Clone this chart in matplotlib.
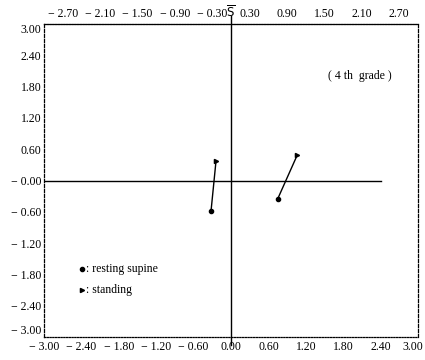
import matplotlib
matplotlib.use("Agg")
import matplotlib.pyplot as plt
import matplotlib.transforms as mtransforms
import numpy as np

# Data
supine_x = [-0.32, 0.75]
supine_y = [-0.58, -0.35]
standing_x = [-0.24, 1.06]
standing_y = [0.38, 0.48]

bottom_ticks = [-3.0, -2.4, -1.8, -1.2, -0.6, 0.0, 0.6, 1.2, 1.8, 2.4, 3.0]
left_ticks = [3.0, 2.4, 1.8, 1.2, 0.6, 0.0, -0.6, -1.2, -1.8, -2.4, -3.0]
top_ticks = [-2.7, -2.1, -1.5, -0.9, -0.3, 0.3, 0.9, 1.5, 2.1, 2.7]

def fmt(v, neg_zero=False):
    s = "%.2f" % abs(v)
    if v < 0 or neg_zero:
        return "\u2212 " + s
    return s

plt.rcParams['font.family'] = ['Liberation Serif', 'DejaVu Serif']
fig = plt.figure(figsize=(4.25, 3.6), dpi=100)
ax = fig.add_axes([44/425, 1-337/360, (418-44)/425, (337-24)/360])
ax.set_xlim(-3, 3)
ax.set_ylim(-3, 3)

for side in ['left', 'right']:
    ax.spines[side].set_linestyle((0, (2.5, 1.5)))
    ax.spines[side].set_linewidth(0.9)
for side in ['top', 'bottom']:
    ax.spines[side].set_linestyle((0, (1, 1.2)))
    ax.spines[side].set_linewidth(0.9)

ax.set_xticks(bottom_ticks)
ax.set_xticklabels([fmt(v) for v in bottom_ticks], fontsize=8.5)
ax.set_yticks(left_ticks)
ax.set_yticklabels([fmt(v, neg_zero=(v == 0)) for v in left_ticks], fontsize=8.5)
ax.tick_params(length=0, pad=2)
ax.tick_params(axis='x', pad=3)

ylabels = ax.get_yticklabels()
ylabels[0].set_va('top')
ylabels[-1].set_va('bottom')
xlabels = ax.get_xticklabels()
off = mtransforms.ScaledTranslation(-5/100, 0, fig.dpi_scale_trans)
xlabels[-1].set_transform(xlabels[-1].get_transform() + off)

ax2 = ax.secondary_xaxis('top')
ax2.set_xticks(top_ticks)
ax2.set_xticklabels([fmt(v) for v in top_ticks], fontsize=8.5)
ax2.tick_params(length=0, pad=3)
ax.text(0.0, 1.012, "$\\overline{\\mathrm{S}}$", transform=ax.get_xaxis_transform(),
        fontsize=8.5, ha='center', va='bottom')

# Axes lines
ax.plot([-3, 2.4], [0, 0], color='black', lw=1.0)
ax.plot([0, 0], [-3.15, 3.15], color='black', lw=1.0, clip_on=False)

# Connections
for sx, sy, tx, ty in zip(supine_x, supine_y, standing_x, standing_y):
    ax.plot([sx, tx], [sy, ty], color='black', lw=1.0)
ax.plot(supine_x, supine_y, 'o', color='black', ms=3)
ax.plot(standing_x, standing_y, '>', color='black', ms=3)

# Legend
ax.plot([-2.39], [-1.69], 'o', color='black', ms=3)
ax.text(-2.33, -1.69, ": resting supine", fontsize=8.5, va='center', ha='left')
ax.plot([-2.39], [-2.09], '>', color='black', ms=3)
ax.text(-2.33, -2.09, ": standing", fontsize=8.5, va='center', ha='left')

ax.text(2.07, 2.01, "( 4 th  grade )", fontsize=8.5, ha='center', va='center')

fig.savefig("out.png", dpi=100)
